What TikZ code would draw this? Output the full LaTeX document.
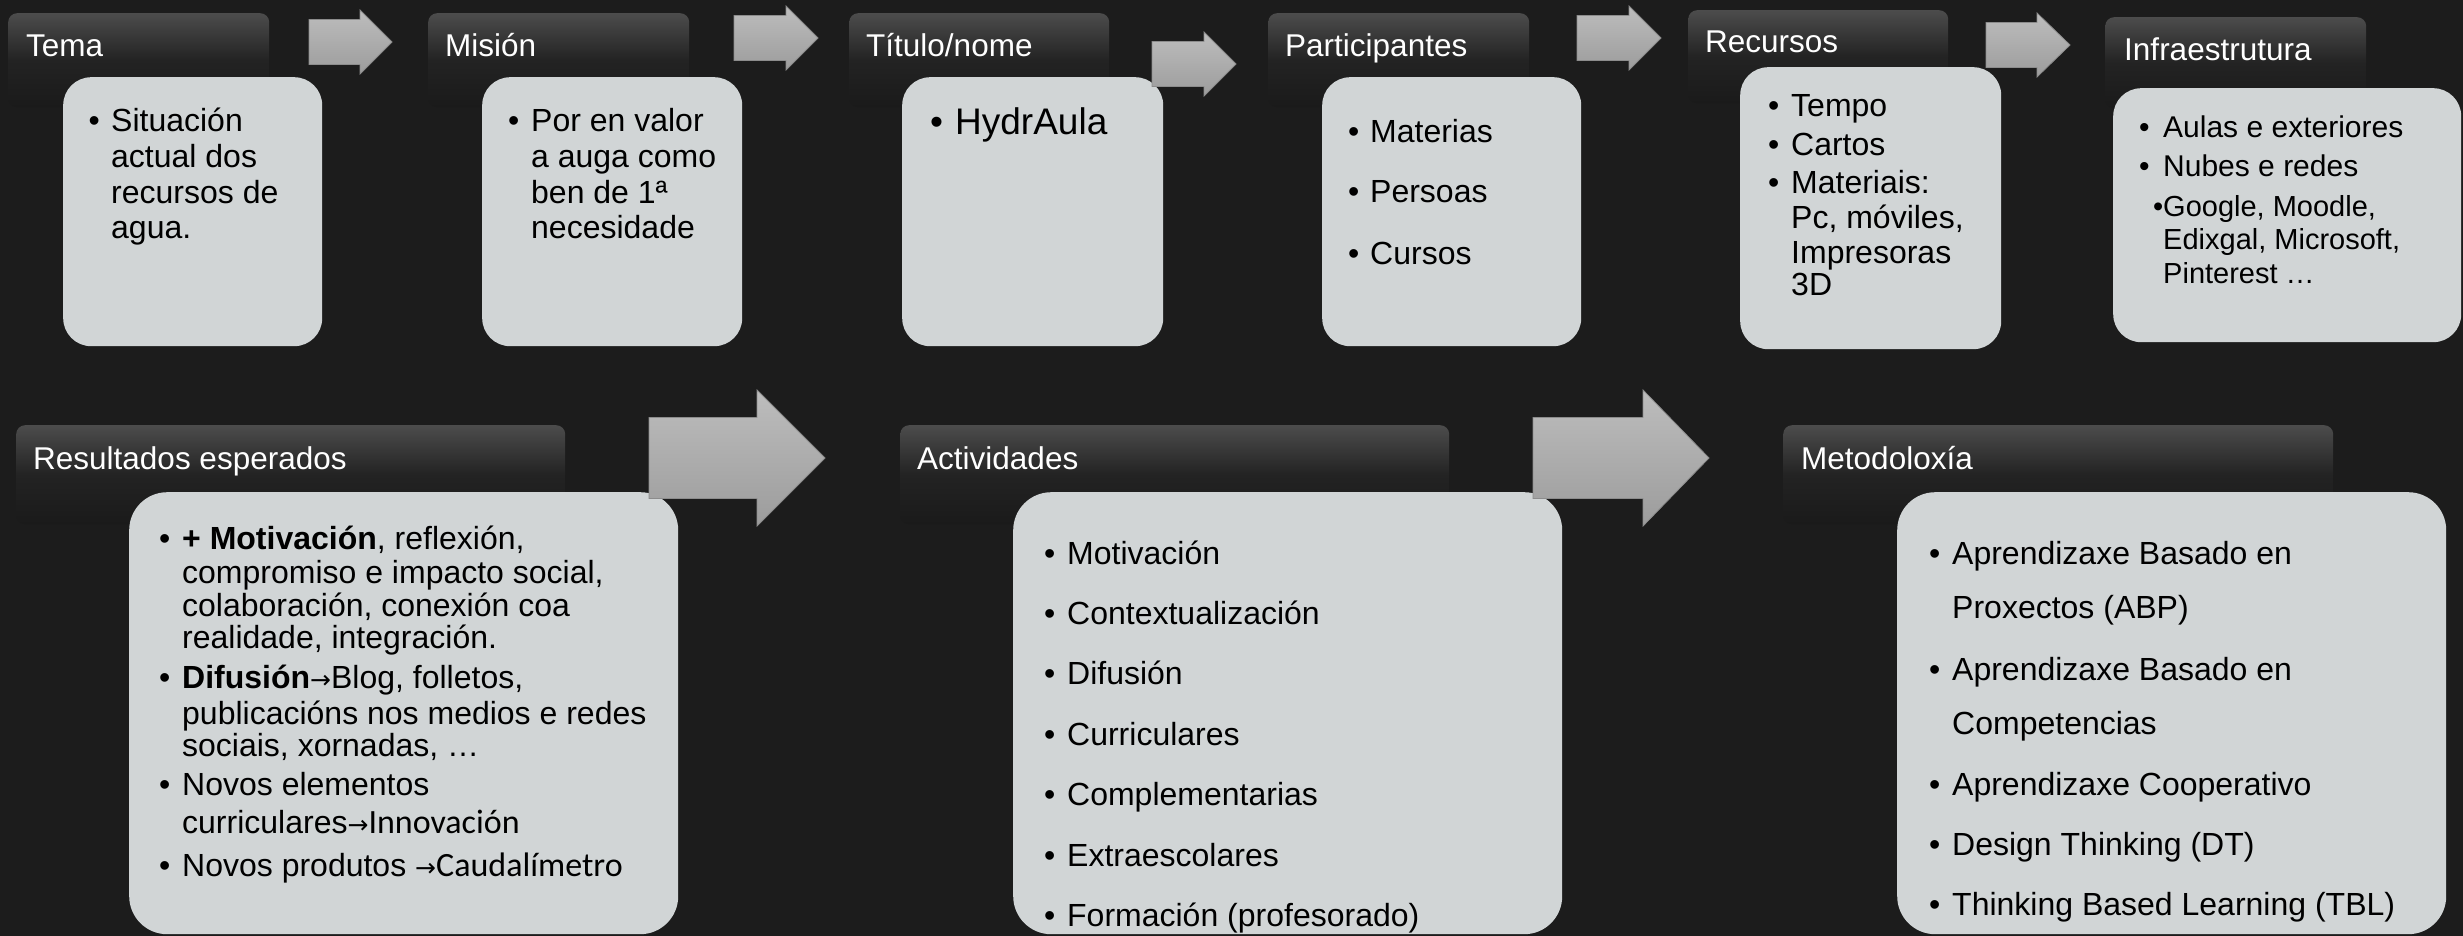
\documentclass[tikz,border=0pt]{standalone}
\usepackage{fontspec}
\setmainfont{Liberation Sans}
\newfontfamily\carlito{Carlito}
\newfontfamily\djv{DejaVu Sans}
\definecolor{bg}{HTML}{1C1C1C}
\definecolor{boxc}{HTML}{D1D5D6}
\definecolor{htop}{HTML}{4C4C4C}
\definecolor{hmid}{HTML}{232323}
\definecolor{hbot}{HTML}{1A1A1A}
\definecolor{atop}{HTML}{BDBDBD}
\definecolor{abot}{HTML}{9C9C9C}
\tikzset{
  hdr/.style={rectangle, rounded corners=9pt, anchor=north west, inner sep=0pt, draw=none,
    top color=htop, bottom color=hbot, middle color=hmid},
  bodybox/.style={rectangle, rounded corners=28pt, anchor=north west, inner sep=0pt, fill=boxc},
  bigbox/.style={bodybox, rounded corners=38pt},
  htxt/.style={anchor=base west, inner sep=0pt, text=white, font=\fontsize{31.5}{36}\selectfont},
  btxt/.style={anchor=base west, inner sep=0pt, text=black, font=\fontsize{32}{38}\selectfont},
  blockarrow/.style={top color=atop, bottom color=abot, draw=black!45, line width=0.8pt, line join=miter},
}
\newcommand\blockarr[6]{%
  \path[blockarrow] (#1,{#2-#4}) -- ({#1+#3-#6},{#2-#4}) -- ({#1+#3-#6},{#2-#5}) -- ({#1+#3},#2)
    -- ({#1+#3-#6},{#2+#5}) -- ({#1+#3-#6},{#2+#4}) -- (#1,{#2+#4}) -- cycle;}
\newcommand\bu[1]{\makebox[#1][l]{•}}
\newcommand\arr{{\djv\fontsize{25}{30}\selectfont →}}
\begin{document}
\begin{tikzpicture}[x=1pt,y=-1pt]
\fill[bg] (0,0) rectangle (2463,936);
\useasboundingbox (0,0) rectangle (2463,936);

% headers
\node[hdr, minimum width=261pt, minimum height=94pt] (h1) at (8,13) {};
\node[hdr, minimum width=261pt, minimum height=94pt] (h2) at (428,13) {};
\node[hdr, minimum width=260pt, minimum height=94pt] (h3) at (849,13) {};
\node[hdr, minimum width=261pt, minimum height=94pt] (h4) at (1268,13) {};
\node[hdr, minimum width=260pt, minimum height=93pt] (h5) at (1688,10) {};
\node[hdr, minimum width=261pt, minimum height=91pt] (h6) at (2105,17) {};
\node[hdr, minimum width=549pt, minimum height=99pt] (h7) at (16,425) {};
\node[hdr, minimum width=549pt, minimum height=99pt] (h8) at (900,425) {};
\node[hdr, minimum width=550pt, minimum height=99pt] (h9) at (1783,425) {};

\node[htxt] (h1t) at (26,57) {Tema};
\node[htxt] (h2t) at (445,57) {Misión};
\node[htxt] (h3t) at (866,57) {Título/nome};
\node[htxt] (h4t) at (1285,57) {Participantes};
\node[htxt] (h5t) at (1705,53) {Recursos};
\node[htxt] (h6t) at (2124,61) {Infraestrutura};
\node[htxt] (h7t) at (33,469) {Resultados esperados};
\node[htxt] (h8t) at (917,469) {Actividades};
\node[htxt] (h9t) at (1801,469) {Metodoloxía};

% bodies
\node[bodybox, minimum width=259pt, minimum height=269pt] (b1) at (63,77) {};
\node[bodybox, minimum width=260pt, minimum height=269pt] (b2) at (482,77) {};
\node[bodybox, minimum width=261pt, minimum height=269pt] (b3) at (902,77) {};
\node[bodybox, minimum width=259pt, minimum height=269pt] (b4) at (1322,77) {};
\node[bodybox, minimum width=261pt, minimum height=282pt] (b5) at (1740,67) {};
\node[bodybox, minimum width=348pt, minimum height=254pt] (b6) at (2113,88) {};
\node[bigbox, minimum width=549pt, minimum height=442pt] (b7) at (129,492) {};
\node[bigbox, minimum width=549pt, minimum height=442pt] (b8) at (1013,492) {};
\node[bigbox, minimum width=549pt, minimum height=442pt] (b9) at (1897,492) {};

% arrows
\blockarr{309}{42}{83}{22.5}{32}{32}
\blockarr{734}{38}{84}{22.5}{32}{32}
\blockarr{1152}{64}{84}{22.5}{32}{32}
\blockarr{1577}{38}{84}{22.5}{32}{32}
\blockarr{1986}{45}{84}{22.5}{32}{33}
\blockarr{649}{458}{176}{40.5}{68}{68}
\blockarr{1533}{458}{176}{40.5}{68}{66}

% Tema
\node[btxt] (t1) at (88.5,132) {\bu{22.5pt}Situación};
\node[btxt] (t2) at (111,168) {actual dos};
\node[btxt] (t3) at (111,204) {recursos de};
\node[btxt] (t4) at (111,239) {agua.};
% Mision
\node[btxt] (m1) at (508,132) {\bu{23pt}Por en valor};
\node[btxt] (m2) at (531,168) {a auga como};
\node[btxt] (m3) at (531,204) {ben de 1ª};
\node[btxt] (m4) at (531,239) {necesidade};
% Titulo
\node[btxt, font=\fontsize{37}{44}\selectfont] (ti1) at (930,135) {\bu{25pt}HydrAula};
% Participantes
\node[btxt] (p1) at (1348,143) {\bu{22pt}Materias};
\node[btxt] (p2) at (1348,203) {\bu{22pt}Persoas};
\node[btxt] (p3) at (1348,265) {\bu{22pt}Cursos};
% Recursos
\node[btxt] (r1) at (1768,117) {\bu{23pt}Tempo};
\node[btxt] (r2) at (1768,156) {\bu{23pt}Cartos};
\node[btxt] (r3) at (1768,194) {\bu{23pt}Materiais:};
\node[btxt] (r4) at (1791,229) {Pc, móviles,};
\node[btxt] (r5) at (1791,263) {Impresoras};
\node[btxt] (r6) at (1791,295) {3D};
% Infraestrutura
\node[btxt, font=\fontsize{30}{36}\selectfont] (i1) at (2139,138) {\bu{24pt}Aulas e exteriores};
\node[btxt, font=\fontsize{30}{36}\selectfont] (i2) at (2139,177) {\bu{24pt}Nubes e redes};
\node[btxt, font=\fontsize{29}{34}\selectfont] (i3) at (2153,217) {\bu{10pt}Google, Moodle,};
\node[btxt, font=\fontsize{29}{34}\selectfont] (i4) at (2163,250) {Edixgal, Microsoft,};
\node[btxt, font=\fontsize{29}{34}\selectfont] (i5) at (2163,283) {Pinterest …};

% Resultados
\node[btxt] (e1) at (159,549.5) {\bu{23pt}\textbf{+ Motivación}, reflexión,};
\node[btxt] (e2) at (182,583) {compromiso e impacto social,};
\node[btxt] (e3) at (182,616) {colaboración, conexión coa};
\node[btxt] (e4) at (182,648) {realidade, integración.};
\node[btxt] (e5) at (159,688.5) {\bu{23pt}\textbf{Difusión}\arr Blog, folletos,};
\node[btxt] (e6) at (182,724) {publicacións nos medios e redes};
\node[btxt] (e7) at (182,756.6) {sociais, xornadas, …};
\node[btxt] (e8) at (159,795.6) {\bu{23pt}Novos elementos};
\node[btxt] (e9) at (182,833) {curriculares\arr{\carlito\fontsize{34}{40}\selectfont Innovación}};
\node[btxt] (e10) at (159,876) {\bu{23pt}Novos produtos \arr{\carlito\fontsize{34}{40}\selectfont Caudalímetro}};

% Actividades
\node[btxt] (a1) at (1044,564) {\bu{23pt}Motivación};
\node[btxt] (a2) at (1044,624) {\bu{23pt}Contextualización};
\node[btxt] (a3) at (1044,684) {\bu{23pt}Difusión};
\node[btxt] (a4) at (1044,745) {\bu{23pt}Curriculares};
\node[btxt] (a5) at (1044,805.5) {\bu{23pt}Complementarias};
\node[btxt] (a6) at (1044,866.5) {\bu{23pt}Extraescolares};
\node[btxt] (a7) at (1044,926) {\bu{23pt}Formación (profesorado)};

% Metodoloxia
\node[btxt] (o1) at (1929,564) {\bu{23pt}Aprendizaxe Basado en};
\node[btxt] (o2) at (1952,618) {Proxectos (ABP)};
\node[btxt] (o3) at (1929,680) {\bu{23pt}Aprendizaxe Basado en};
\node[btxt] (o4) at (1952,734) {Competencias};
\node[btxt] (o5) at (1929,795) {\bu{23pt}Aprendizaxe Cooperativo};
\node[btxt] (o6) at (1929,855) {\bu{23pt}Design Thinking (DT)};
\node[btxt] (o7) at (1929,915.5) {\bu{23pt}Thinking Based Learning (TBL)};
\end{tikzpicture}
\end{document}
